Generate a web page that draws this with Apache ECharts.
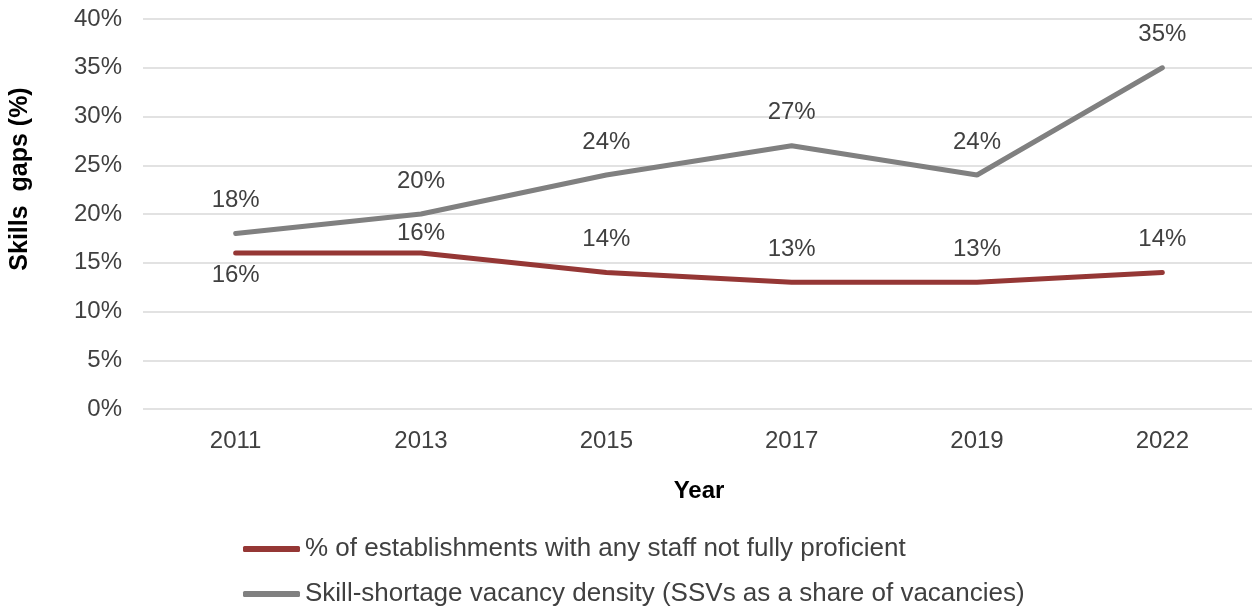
<!DOCTYPE html>
<html>
<head>
<meta charset="utf-8">
<script src="https://cdn.jsdelivr.net/npm/echarts@6/dist/echarts.min.js"></script>
<style>
  html, body { margin: 0; padding: 0; background: #fff; }
  #chart { width: 1252px; height: 611px; }
</style>
</head>
<body>
<div id="chart"></div>
<script>
// Survey years and the two skills measures (percent)
const years = ['2011', '2013', '2015', '2017', '2019', '2022'];
const notProficient = [16, 16, 14, 13, 13, 14];
const ssvDensity = [18, 20, 24, 27, 24, 35];
const yTicks = [0, 5, 10, 15, 20, 25, 30, 35, 40];

const seriesNames = [
  '% of establishments with any staff not fully proficient',
  'Skill-shortage vacancy density (SSVs as a share of vacancies)'
];

const textColor = '#404040';
const font = 'Liberation Sans, Arial, sans-serif';

// Red series labels: first one sits below the line, the 2013 one closer to it
const redData = notProficient.map((v, i) => {
  const item = { value: v };
  if (i === 0) item.label = { position: 'bottom', distance: 10 };
  else if (i === 1) item.label = { distance: 8 };
  return item;
});

const valueLabel = {
  show: true,
  position: 'top',
  distance: 21,
  fontSize: 24,
  color: textColor,
  fontFamily: font,
  formatter: p => p.value + '%'
};

const chart = echarts.init(document.getElementById('chart'), null, { renderer: 'canvas' });
chart.setOption({
  animation: false,
  backgroundColor: '#ffffff',
  textStyle: { fontFamily: font },
  grid: { left: 143, top: 19, right: -3, height: 390, containLabel: false, outerBoundsMode: 'none' },
  xAxis: {
    type: 'category',
    data: years,
    boundaryGap: true,
    name: 'Year',
    nameLocation: 'middle',
    nameGap: 70,
    nameTextStyle: { fontSize: 24, fontWeight: 'bold', color: '#000', fontFamily: font },
    axisLine: { show: false },
    axisTick: { show: false },
    axisLabel: { fontSize: 24, color: textColor, margin: 20, fontFamily: font }
  },
  yAxis: {
    type: 'value',
    min: yTicks[0],
    max: yTicks[yTicks.length - 1],
    interval: 5,
    name: 'Skills  gaps (%)',
    nameLocation: 'middle',
    nameGap: 110,
    nameTextStyle: { fontSize: 25, fontWeight: 'bold', color: '#000', fontFamily: font, padding: [0, 0, 0, 70] },
    axisLine: { show: false },
    axisTick: { show: false },
    axisLabel: { fontSize: 24, color: textColor, margin: 21, formatter: '{value}%', fontFamily: font },
    splitLine: { lineStyle: { color: '#d9d9d9', width: 1.5 } }
  },
  legend: {
    orient: 'vertical',
    left: 243,
    top: 536,
    padding: 0,
    itemWidth: 57,
    itemHeight: 6,
    itemGap: 19,
    icon: 'roundRect',
    textStyle: { fontSize: 26, color: textColor, lineHeight: 26, padding: [0, 0, 0, 0], fontFamily: font },
    data: seriesNames
  },
  series: [
    {
      name: seriesNames[0],
      type: 'line',
      data: redData,
      symbol: 'circle',
      symbolSize: 0.1,
      showSymbol: true,
      color: '#953735',
      itemStyle: { color: '#953735' },
      lineStyle: { width: 5, color: '#953735', cap: 'round' },
      label: valueLabel,
      labelLayout: { hideOverlap: false },
      z: 3
    },
    {
      name: seriesNames[1],
      type: 'line',
      data: ssvDensity,
      symbol: 'circle',
      symbolSize: 0.1,
      showSymbol: true,
      color: '#808080',
      itemStyle: { color: '#808080' },
      lineStyle: { width: 5, color: '#808080', cap: 'round' },
      label: valueLabel,
      labelLayout: { hideOverlap: false },
      z: 2
    }
  ]
});
</script>
</body>
</html>
